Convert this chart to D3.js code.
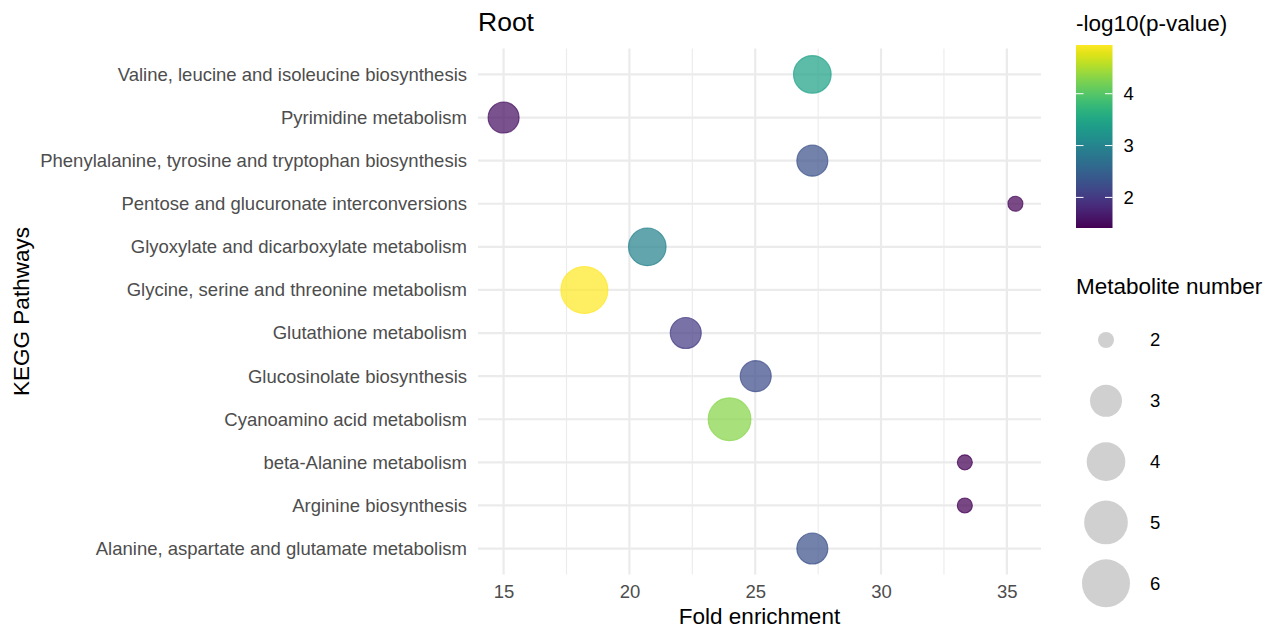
<!DOCTYPE html>
<html>
<head>
<meta charset="utf-8">
<script src="https://cdn.jsdelivr.net/npm/d3@7"></script>
<style>
  html, body { margin: 0; padding: 0; background: #ffffff; }
  svg { display: block; font-family: "Liberation Sans", Arial, sans-serif; }
</style>
</head>
<body>
<svg id="chart" width="1287" height="630"></svg>
<script>
// KEGG pathway enrichment, root tissue
const pathways = [
  "Valine, leucine and isoleucine biosynthesis",
  "Pyrimidine metabolism",
  "Phenylalanine, tyrosine and tryptophan biosynthesis",
  "Pentose and glucuronate interconversions",
  "Glyoxylate and dicarboxylate metabolism",
  "Glycine, serine and threonine metabolism",
  "Glutathione metabolism",
  "Glucosinolate biosynthesis",
  "Cyanoamino acid metabolism",
  "beta-Alanine metabolism",
  "Arginine biosynthesis",
  "Alanine, aspartate and glutamate metabolism"
];
const foldEnrichment = [27.27, 15.0, 27.27, 35.34, 20.71, 18.21, 22.24, 25.02, 23.98, 33.33, 33.33, 27.27];
const negLogP        = [3.45, 1.55, 2.30, 1.45, 2.98, 4.94, 2.02, 2.22, 4.30, 1.41, 1.41, 2.30];
const metaboliteNum  = [4, 3, 3, 2, 4, 6, 3, 3, 5, 2, 2, 3];

const xTicks = [15, 20, 25, 30, 35];
const xMinor = [17.5, 22.5, 27.5, 32.5];
const colorTicks = [2, 3, 4];
const sizeBreaks = [2, 3, 4, 5, 6];

const svg = d3.select("#chart");
const panel = { left: 478, right: 1041, top: 48.6, bottom: 574.4 };

// continuous x with 5% expansion on each side
const [xmin, xmax] = d3.extent(foldEnrichment);
const pad = (xmax - xmin) * 0.05;
const x = d3.scaleLinear().domain([xmin - pad, xmax + pad]).range([panel.left, panel.right]);

// discrete y, first pathway on top
const y = d3.scalePoint().domain(pathways).range([panel.top, panel.bottom]).padding(0.6);

// viridis fill over the observed -log10(p) range
const color = d3.scaleSequential(d3.interpolateViridis).domain(d3.extent(negLogP));

// point radius: area-style mapping over the count range
const sizeMin = d3.min(sizeBreaks);
const rScale = d3.scaleSqrt().domain([0, d3.max(sizeBreaks) - sizeMin]).range([8, 24]);
const radius = v => rScale(v - sizeMin);

const gridColor = "#ebebeb";

// minor vertical grid
svg.append("g").selectAll("line").data(xMinor).join("line")
  .attr("x1", d => x(d)).attr("x2", d => x(d))
  .attr("y1", panel.top).attr("y2", panel.bottom)
  .attr("stroke", gridColor).attr("stroke-width", 1.1);

// major vertical grid
svg.append("g").selectAll("line").data(xTicks).join("line")
  .attr("x1", d => x(d)).attr("x2", d => x(d))
  .attr("y1", panel.top).attr("y2", panel.bottom)
  .attr("stroke", gridColor).attr("stroke-width", 2.2);

// horizontal grid at each pathway
svg.append("g").selectAll("line").data(pathways).join("line")
  .attr("x1", panel.left).attr("x2", panel.right)
  .attr("y1", d => y(d)).attr("y2", d => y(d))
  .attr("stroke", gridColor).attr("stroke-width", 2.2);

// x axis labels
const xAxis = svg.append("g")
  .attr("transform", `translate(0,${panel.bottom})`)
  .call(d3.axisBottom(x).tickValues(xTicks).tickSize(0).tickPadding(10).tickFormat(d3.format("d")));
xAxis.select(".domain").remove();
xAxis.selectAll("text")
  .attr("font-size", 18.5).attr("fill", "#4d4d4d")
  .attr("font-family", "Liberation Sans, Arial, sans-serif");

// y axis labels
const yAxis = svg.append("g")
  .attr("transform", `translate(${panel.left},0)`)
  .call(d3.axisLeft(y).tickSize(0).tickPadding(11));
yAxis.select(".domain").remove();
yAxis.selectAll("text")
  .attr("font-size", 18.5).attr("fill", "#4d4d4d")
  .attr("font-family", "Liberation Sans, Arial, sans-serif");

// points
const rows = pathways.map((p, i) => ({
  pathway: p, fe: foldEnrichment[i], lp: negLogP[i], n: metaboliteNum[i]
}));
svg.append("g").selectAll("circle").data(rows).join("circle")
  .attr("cx", d => x(d.fe))
  .attr("cy", d => y(d.pathway))
  .attr("r", d => radius(d.n) - 0.5)
  .attr("fill", d => color(d.lp))
  .attr("fill-opacity", 0.72)
  .attr("stroke", d => color(d.lp))
  .attr("stroke-opacity", 0.72)
  .attr("stroke-width", 1.1);

// titles
svg.append("text").text("Root")
  .attr("x", panel.left).attr("y", 31)
  .attr("font-size", 26.5).attr("fill", "#000");

svg.append("text").text("Fold enrichment")
  .attr("x", (panel.left + panel.right) / 2).attr("y", 624)
  .attr("text-anchor", "middle")
  .attr("font-size", 22.5).attr("fill", "#000");

svg.append("text").text("KEGG Pathways")
  .attr("transform", `translate(29,${(panel.top + panel.bottom) / 2}) rotate(-90)`)
  .attr("text-anchor", "middle")
  .attr("font-size", 22.5).attr("fill", "#000");

// colour legend
const cb = { x: 1076, y: 45, w: 36.5, h: 183 };
svg.append("text").text("-log10(p-value)")
  .attr("x", cb.x).attr("y", 31)
  .attr("font-size", 22.5).attr("fill", "#000");

const cbScale = d3.scaleLinear().domain(color.domain()).range([cb.y + cb.h, cb.y]);
const defs = svg.append("defs");
const grad = defs.append("linearGradient").attr("id", "viridisBar")
  .attr("x1", 0).attr("y1", 1).attr("x2", 0).attr("y2", 0);
d3.range(0, 1.0001, 0.05).forEach(t => {
  grad.append("stop").attr("offset", t).attr("stop-color", d3.interpolateViridis(t));
});
svg.append("rect")
  .attr("x", cb.x).attr("y", cb.y).attr("width", cb.w).attr("height", cb.h)
  .attr("fill", "url(#viridisBar)");

const cbTicks = svg.append("g");
colorTicks.forEach(t => {
  const ty = cbScale(t);
  cbTicks.append("line").attr("x1", cb.x).attr("x2", cb.x + 7.5)
    .attr("y1", ty).attr("y2", ty).attr("stroke", "#fff").attr("stroke-width", 1);
  cbTicks.append("line").attr("x1", cb.x + cb.w - 7.5).attr("x2", cb.x + cb.w)
    .attr("y1", ty).attr("y2", ty).attr("stroke", "#fff").attr("stroke-width", 1);
  cbTicks.append("text").text(t)
    .attr("x", cb.x + cb.w + 11).attr("y", ty).attr("dy", "0.35em")
    .attr("font-size", 18.5).attr("fill", "#000");
});

// size legend
svg.append("text").text("Metabolite number")
  .attr("x", 1076).attr("y", 294)
  .attr("font-size", 22.5).attr("fill", "#000");

const keyY = d3.scalePoint().domain(sizeBreaks).range([340, 583.3]);
const sizeKeys = svg.append("g").selectAll("g").data(sizeBreaks).join("g")
  .attr("transform", d => `translate(1106,${keyY(d)})`);
sizeKeys.append("circle")
  .attr("r", d => radius(d))
  .attr("fill", "#bebebe").attr("fill-opacity", 0.72);
sizeKeys.append("text").text(d => d)
  .attr("x", 44).attr("dy", "0.35em")
  .attr("font-size", 18.5).attr("fill", "#000");
</script>
</body>
</html>
